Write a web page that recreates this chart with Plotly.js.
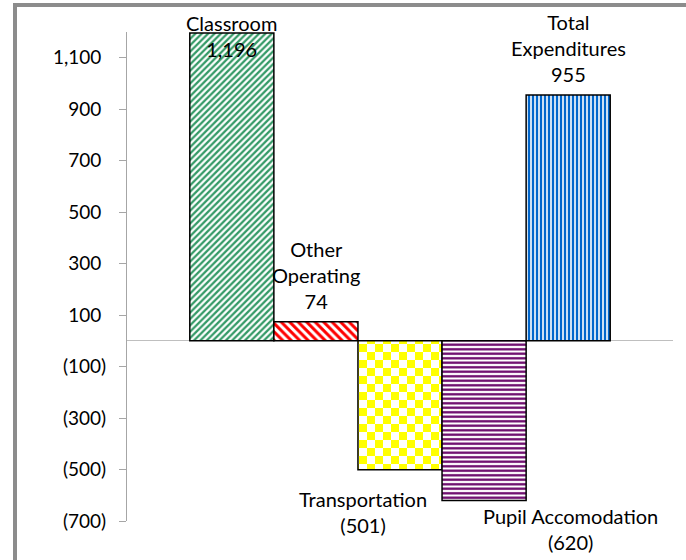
<!DOCTYPE html>
<html>
<head>
<meta charset="utf-8">
<script src="https://cdn.plot.ly/plotly-3.0.1.min.js"></script>
<style>
  html, body { margin:0; padding:0; background:#fff; overflow:hidden; }
  #wrap { position:relative; width:686px; height:560px; }
  #chart { position:absolute; left:0; top:0; width:686px; height:560px; }
  #frame { position:absolute; left:13px; top:3px; width:700px; height:600px;
           border-left:4px solid #8c8c8c; border-top:4px solid #8c8c8c; pointer-events:none; }
</style>
</head>
<body>
<div id="wrap"><div id="chart"></div><div id="frame"></div></div>
<script>
// ---- data ----
const categories = ["Classroom", "Other<br>Operating", "Transportation", "Pupil Accomodation", "Total<br>Expenditures"];
const values = [1196, 74, -501, -620, 955];
const tickVals = [-700, -500, -300, -100, 100, 300, 500, 700, 900, 1100];
const tickText = ["(700)", "(500)", "(300)", "(100)", "100\u00A0", "300\u00A0", "500\u00A0", "700\u00A0", "900\u00A0", "1,100\u00A0"];

// ---- styles ----
const colors = ["#339966", "#ff0000", "#ffff00", "#660066", "#0066cc"];
const shapes = ["/", "\\", "+", "-", "|"];
const sizes = [4.5, 6, 16, 4.5, 4];
const solid = [0.5, 0.5, 0.3, 0.5, 0.6];
// label placement: [anchor, yshift, xshift]
const labelPos = [["middle", -3, 0], ["bottom", 7, 0], ["top", -15, -37], ["top", -2, 86], ["bottom", 7, 0]];

function fmt(v) {
  const s = Math.abs(v).toLocaleString("en-US");
  return v < 0 ? "(" + s + ")" : s;
}

const bargap = 0.23;
const n = values.length;
const barW = (1 - bargap) / n;
const FONT = "Lato, 'Open Sans', sans-serif";

const traces = values.map((v, i) => ({
  type: "bar",
  x: ["Expenditures"],
  y: [v],
  name: categories[i].replace("<br>", " "),
  marker: {
    color: colors[i],
    line: { color: "#000000", width: 1.5 },
    pattern: { shape: shapes[i], fgcolor: colors[i], bgcolor: "#ffffff", size: sizes[i], solidity: solid[i], fillmode: "replace" }
  },
  hoverinfo: "skip"
}));

const annotations = values.map((v, i) => ({
  xref: "x", yref: "y",
  x: (i - (n - 1) / 2) * barW,
  y: v,
  text: categories[i] + "<br>" + fmt(v),
  showarrow: false,
  xanchor: "center",
  yanchor: labelPos[i][0],
  yshift: labelPos[i][1],
  xshift: labelPos[i][2],
  font: { family: FONT, size: 20, color: "#000" },
  align: "center"
}));

const layout = {
  width: 686, height: 560,
  margin: { l: 127, r: 13, t: 32, b: 39 },
  paper_bgcolor: "#ffffff", plot_bgcolor: "#ffffff",
  showlegend: false,
  barmode: "group", bargap: bargap, bargroupgap: 0,
  xaxis: { type: "category", visible: false, range: [-0.5, 0.5], fixedrange: true },
  yaxis: {
    range: [-700, 1200],
    tickmode: "array", tickvals: tickVals, ticktext: tickText,
    showgrid: false,
    zeroline: true, zerolinecolor: "#bfbfbf", zerolinewidth: 1,
    showline: true, linecolor: "#a6a6a6", linewidth: 1,
    ticks: "outside", ticklen: 7, tickcolor: "#a6a6a6", tickwidth: 1,
    ticklabelstandoff: 9,
    tickfont: { family: FONT, size: 19, color: "#000" },
    fixedrange: true
  },
  annotations: annotations,
  font: { family: FONT, size: 19, color: "#000" }
};

Plotly.newPlot("chart", traces, layout, { staticPlot: true, displayModeBar: false }).then(gd => {
  // turn the third bar's pattern into a checkerboard
  try {
    const bars = gd.querySelectorAll(".barlayer .trace.bars");
    const path = bars[2].querySelector("path");
    const fill = path.style.fill || path.getAttribute("fill") || "";
    const m = fill.match(/#([^'")]+)/);
    if (m) {
      const pat = gd.querySelector("pattern[id='" + m[1] + "']") || document.getElementById(m[1]);
      if (pat) {
        const ns = "http://www.w3.org/2000/svg";
        const sz = 16, h = sz / 2;
        while (pat.firstChild) pat.removeChild(pat.firstChild);
        pat.setAttribute("width", sz); pat.setAttribute("height", sz);
        pat.setAttribute("patternUnits", "userSpaceOnUse");
        const mk = (x, y, w, hh, c) => { const r = document.createElementNS(ns, "rect");
          r.setAttribute("x", x); r.setAttribute("y", y); r.setAttribute("width", w); r.setAttribute("height", hh);
          r.setAttribute("fill", c); pat.appendChild(r); };
        mk(0, 0, sz, sz, "#ffffff");
        mk(0, 0, h, h, colors[2]);
        mk(h, h, h, h, colors[2]);
      }
    }
  } catch (e) { console.log(e); }
});
</script>
</body>
</html>
